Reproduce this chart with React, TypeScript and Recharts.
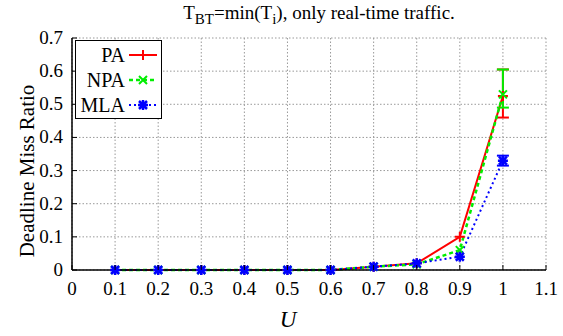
import React from 'react';
import { LineChart, Line, XAxis, YAxis, CartesianGrid, ErrorBar, Legend } from 'recharts';

// utilization on the x axis
const utilization = [0.1, 0.2, 0.3, 0.4, 0.5, 0.6, 0.7, 0.8, 0.9, 1.0];

// deadline miss ratio per scheme
const paMiss = [0, 0, 0, 0, 0, 0, 0.01, 0.02, 0.1, 0.525];
const npaMiss = [0, 0, 0, 0, 0, 0, 0.01, 0.017, 0.06, 0.53];
const mlaMiss = [0, 0, 0, 0, 0, 0, 0.01, 0.02, 0.04, 0.33];

// error bars (lower, upper), only at U = 1
const paErr = [null, null, null, null, null, null, null, null, null, [0.065, 0.08]];
const npaErr = [null, null, null, null, null, null, null, null, null, [0.04, 0.075]];
const mlaErr = [null, null, null, null, null, null, null, null, null, [0.015, 0.015]];

const xTicks = [0, 0.1, 0.2, 0.3, 0.4, 0.5, 0.6, 0.7, 0.8, 0.9, 1, 1.1];
const yTicks = [0, 0.1, 0.2, 0.3, 0.4, 0.5, 0.6, 0.7];

const FONT = 'Liberation Serif, Times New Roman, serif';

const rows = utilization.map((u, i) => ({
  u,
  pa: paMiss[i],
  npa: npaMiss[i],
  mla: mlaMiss[i],
  paErr: paErr[i] ?? undefined,
  npaErr: npaErr[i] ?? undefined,
  mlaErr: mlaErr[i] ?? undefined,
}));

type Kind = 'plus' | 'cross' | 'star';

const series: { key: string; name: string; color: string; dash?: string; kind: Kind; width: number }[] = [
  { key: 'pa', name: 'PA', color: '#ff0000', kind: 'plus', width: 2 },
  { key: 'npa', name: 'NPA', color: '#00ee00', dash: '4 3', kind: 'cross', width: 2.5 },
  { key: 'mla', name: 'MLA', color: '#0000ff', dash: '2 3', kind: 'star', width: 2 },
];

function Marker({ cx, cy, kind, color }: { cx: number; cy: number; kind: Kind; color: string }) {
  const r = 5;
  const d = 4;
  const plus = `M${cx - r},${cy}H${cx + r}M${cx},${cy - r}V${cy + r}`;
  const cross = `M${cx - d},${cy - d}L${cx + d},${cy + d}M${cx - d},${cy + d}L${cx + d},${cy - d}`;
  const path = kind === 'plus' ? plus : kind === 'cross' ? cross : plus + cross;
  return <path d={path} stroke={color} strokeWidth={kind === 'star' ? 2.5 : 2} fill="none" />;
}

const BottomTick = ({ x, y, payload }: any) => (
  <g>
    <line x1={x} y1={y} x2={x} y2={y - 5} stroke="#000" />
    <text x={x} y={y + 25} textAnchor="middle" fontFamily={FONT} fontSize={19} fill="#000">
      {payload.value}
    </text>
  </g>
);

const LeftTick = ({ x, y, payload }: any) => (
  <g>
    <line x1={x} y1={y} x2={x + 5} y2={y} stroke="#000" />
    <text x={x - 9} y={y + 6} textAnchor="end" fontFamily={FONT} fontSize={19} fill="#000">
      {payload.value}
    </text>
  </g>
);

const TopTick = ({ x, y }: any) => <line x1={x} y1={y} x2={x} y2={y + 5} stroke="#000" />;
const RightTick = ({ x, y }: any) => <line x1={x} y1={y} x2={x - 5} y2={y} stroke="#000" />;

const XTitle = ({ viewBox }: any) => (
  <text
    x={viewBox.x + viewBox.width / 2 - 21}
    y={viewBox.y + 57}
    textAnchor="middle"
    fontFamily={FONT}
    fontStyle="italic"
    fontSize={23}
    fill="#000"
  >
    U
  </text>
);

const YTitle = ({ viewBox }: any) => {
  const cx = 27;
  const cy = viewBox.y + viewBox.height / 2 + 17;
  return (
    <text
      x={cx}
      y={cy}
      transform={`rotate(-90 ${cx} ${cy})`}
      textAnchor="middle"
      dominantBaseline="central"
      fontFamily={FONT}
      fontSize={21}
      fill="#000"
    >
      Deadline Miss Ratio
    </text>
  );
};

const LegendBox = () => (
  <svg width={87} height={79} style={{ display: 'block' }}>
    <rect x={0.5} y={0.5} width={86} height={78} fill="#fff" stroke="#000" />
    {series.map((s, i) => {
      const cy = 15 + i * 25;
      return (
        <g key={s.key}>
          <text x={50} y={cy + 7} textAnchor="end" fontFamily={FONT} fontSize={20} fill="#000">
            {s.name}
          </text>
          <line x1={54} y1={cy} x2={82} y2={cy} stroke={s.color} strokeWidth={s.width} strokeDasharray={s.dash} />
          <Marker cx={68} cy={cy} kind={s.kind} color={s.color} />
        </g>
      );
    })}
  </svg>
);

export default function App() {
  return (
    <div style={{ position: 'absolute', left: 0, top: 0, width: 563, height: 336, background: '#fff' }}>
      <div
        style={{
          position: 'absolute',
          left: 319,
          top: 2,
          transform: 'translateX(-50%)',
          whiteSpace: 'nowrap',
          fontFamily: FONT,
          fontSize: 19,
          lineHeight: '22px',
        }}
      >
        T<sub style={{ fontSize: 15 }}>BT</sub>=min(T<sub style={{ fontSize: 15 }}>i</sub>), only real-time traffic.
      </div>
      <LineChart width={563} height={336} data={rows} margin={{ top: 38, right: 17, bottom: 0, left: 0 }}>
        <CartesianGrid stroke="#999" strokeDasharray="1.5 2" />
        <XAxis
          dataKey="u"
          type="number"
          domain={[0, 1.1]}
          ticks={xTicks}
          height={66}
          tickSize={0}
          tickMargin={0}
          tickLine={false}
          tick={<BottomTick />}
          axisLine={{ stroke: '#000', strokeWidth: 1.5 }}
          interval={0}
          label={<XTitle />}
        />
        <XAxis
          xAxisId="top"
          orientation="top"
          type="number"
          domain={[0, 1.1]}
          ticks={xTicks}
          height={0}
          tickSize={0}
          tickMargin={0}
          tickLine={false}
          tick={<TopTick />}
          axisLine={{ stroke: '#000', strokeWidth: 1.5 }}
          interval={0}
        />
        <YAxis
          type="number"
          domain={[0, 0.7]}
          ticks={yTicks}
          width={72}
          tickSize={0}
          tickMargin={0}
          tickLine={false}
          tick={<LeftTick />}
          axisLine={{ stroke: '#000', strokeWidth: 1.5 }}
          interval={0}
          label={<YTitle />}
        />
        <YAxis
          yAxisId="right"
          orientation="right"
          type="number"
          domain={[0, 0.7]}
          ticks={yTicks}
          width={0}
          tickSize={0}
          tickMargin={0}
          tickLine={false}
          tick={<RightTick />}
          axisLine={{ stroke: '#000', strokeWidth: 1.5 }}
          interval={0}
        />
        <Legend
          layout="vertical"
          align="center"
          verticalAlign="middle"
          content={<LegendBox />}
          wrapperStyle={{ left: 75, top: 40, width: 87, height: 79 }}
        />
        {series.map((s) => (
          <Line
            key={s.key}
            dataKey={s.key}
            name={s.name}
            stroke={s.color}
            strokeWidth={s.width}
            strokeDasharray={s.dash}
            isAnimationActive={false}
            dot={(p: any) => <Marker key={`${s.key}-${p.index}`} cx={p.cx} cy={p.cy} kind={s.kind} color={s.color} />}
          >
            <ErrorBar dataKey={`${s.key}Err`} width={6} stroke={s.color} strokeWidth={2} direction="y" />
          </Line>
        ))}
      </LineChart>
    </div>
  );
}
